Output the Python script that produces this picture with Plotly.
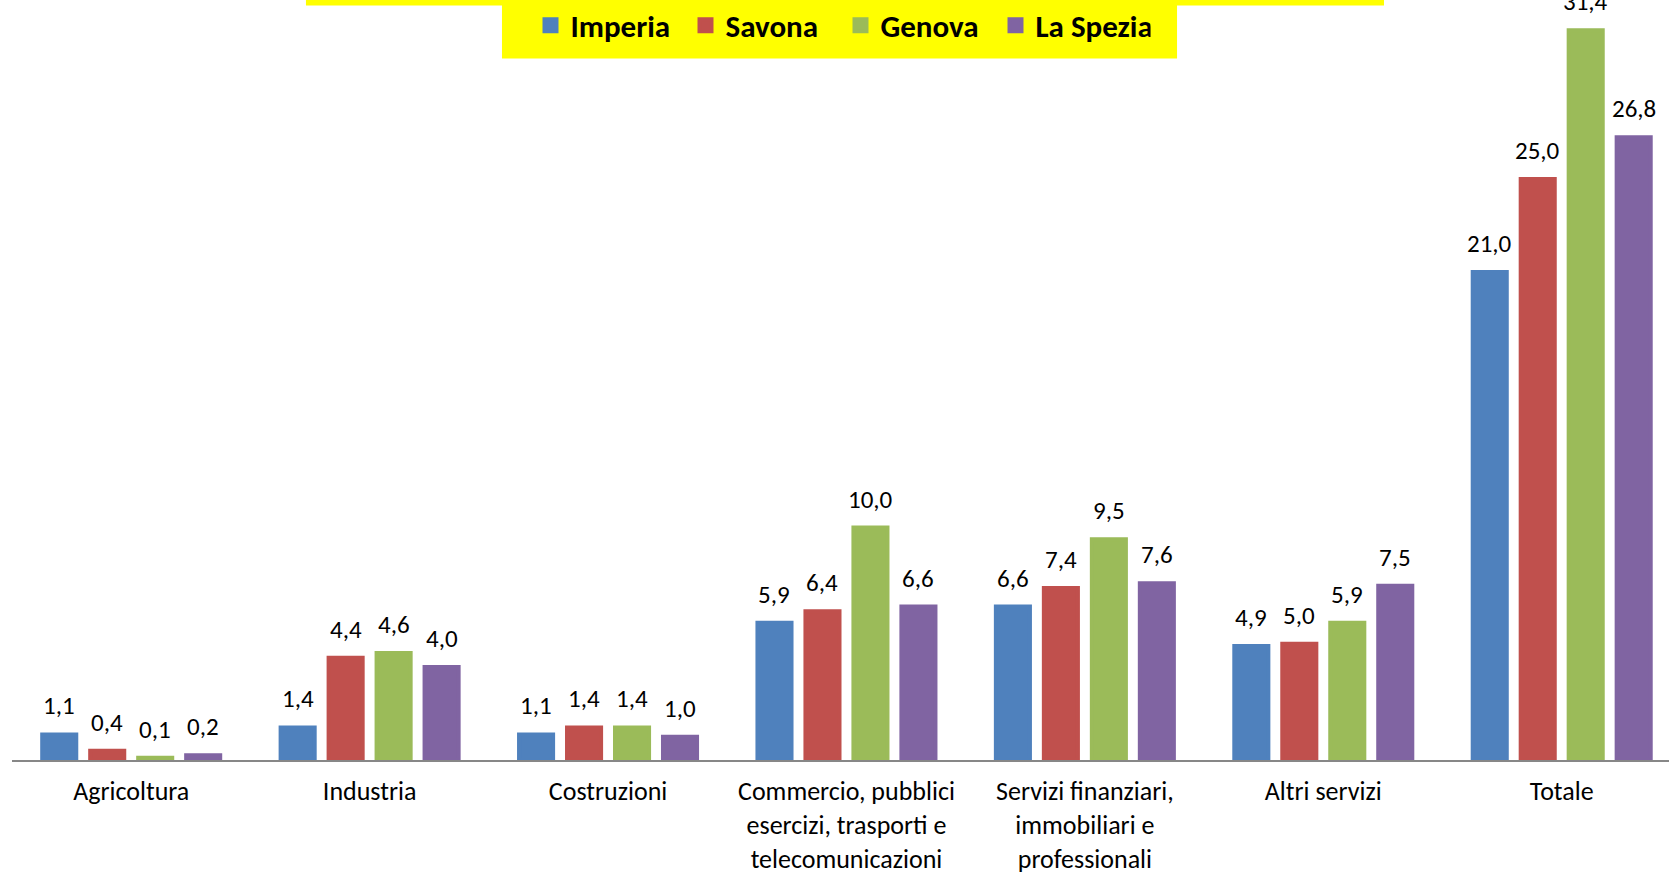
import plotly.graph_objects as go

# Settori economici (etichette dell'asse x)
categorie = [
    "Agricoltura",
    "Industria",
    "Costruzioni",
    "Commercio, pubblici<br>esercizi, trasporti e<br>telecomunicazioni",
    "Servizi finanziari,<br>immobiliari e<br>professionali",
    "Altri servizi",
    "Totale",
]

province = ["Imperia", "Savona", "Genova", "La Spezia"]

imperia = [1.1, 1.4, 1.1, 5.9, 6.6, 4.9, 21.0]
savona = [0.4, 4.4, 1.4, 6.4, 7.4, 5.0, 25.0]
genova = [0.1, 4.6, 1.4, 10.0, 9.5, 5.9, 31.4]
la_spezia = [0.2, 4.0, 1.0, 6.6, 7.6, 7.5, 26.8]

serie = [imperia, savona, genova, la_spezia]
colori = ["#4F81BD", "#C0504D", "#9BBB59", "#8064A2"]

FONT = "Carlito, Lato, sans-serif"
BARGAP = 0.195
BARGROUPGAP = 0.29
BORDO = 4  # bordo nello stesso colore: ingrandisce anche il quadratino della legenda

fig = go.Figure()
for nome, valori, colore in zip(province, serie, colori):
    fig.add_trace(go.Bar(
        name=nome,
        x=categorie,
        y=valori,
        marker=dict(color=colore, line=dict(width=BORDO, color=colore)),
        hoverinfo="skip",
    ))

# Etichette dei valori sopra ciascuna barra, centrate sullo slot della serie
slot = (1 - BARGAP) / len(serie)
annotazioni = []
for j, valori in enumerate(serie):
    off = (j - (len(serie) - 1) / 2) * slot
    for i, v in enumerate(valori):
        annotazioni.append(dict(
            x=i + off, y=v, xref="x", yref="y",
            text=f"{v:.1f}".replace(".", ","),
            showarrow=False, yanchor="bottom", yshift=11,
            font=dict(family=FONT, size=25, color="#000000"),
        ))

fig.update_layout(
    width=1669,
    height=872,
    margin=dict(l=12, r=0, t=0, b=112, autoexpand=False),
    paper_bgcolor="#FFFFFF",
    plot_bgcolor="#FFFFFF",
    barmode="group",
    bargap=BARGAP,
    bargroupgap=BARGROUPGAP,
    font=dict(family=FONT, color="#000000"),
    showlegend=True,
    legend=dict(
        orientation="h",
        x=0.5, xanchor="center",
        y=1.002, yanchor="top",
        bgcolor="rgba(0,0,0,0)",
        font=dict(family=FONT, size=31, color="#000000", weight="bold"),
        entrywidth=110,
        itemclick=False, itemdoubleclick=False,
    ),
    xaxis=dict(
        type="category",
        range=[-0.5, 6.45],
        automargin=False,
        showline=True, linecolor="#878787", linewidth=2,
        showgrid=False, zeroline=False, ticks="",
        tickfont=dict(family=FONT, size=26, color="#000000"),
        ticklabelstandoff=7,
        fixedrange=True,
    ),
    yaxis=dict(
        range=[0, 32.7],
        automargin=False,
        showticklabels=False, showgrid=False, zeroline=False, showline=False,
        ticks="", fixedrange=True,
    ),
    shapes=[
        # fascia gialla del titolo
        dict(type="rect", xref="paper", yref="paper",
             x0=0.1774, x1=0.828, y0=0.9928, y1=1.0,
             fillcolor="#FFFF00", line=dict(width=0), layer="above"),
        # riquadro giallo della legenda
        dict(type="rect", xref="paper", yref="paper",
             x0=0.2957, x1=0.7031, y0=0.923, y1=1.0,
             fillcolor="#FFFF00", line=dict(width=0), layer="above"),
    ],
    annotations=annotazioni,
)

fig.write_html("out.html", config={"displayModeBar": False})
